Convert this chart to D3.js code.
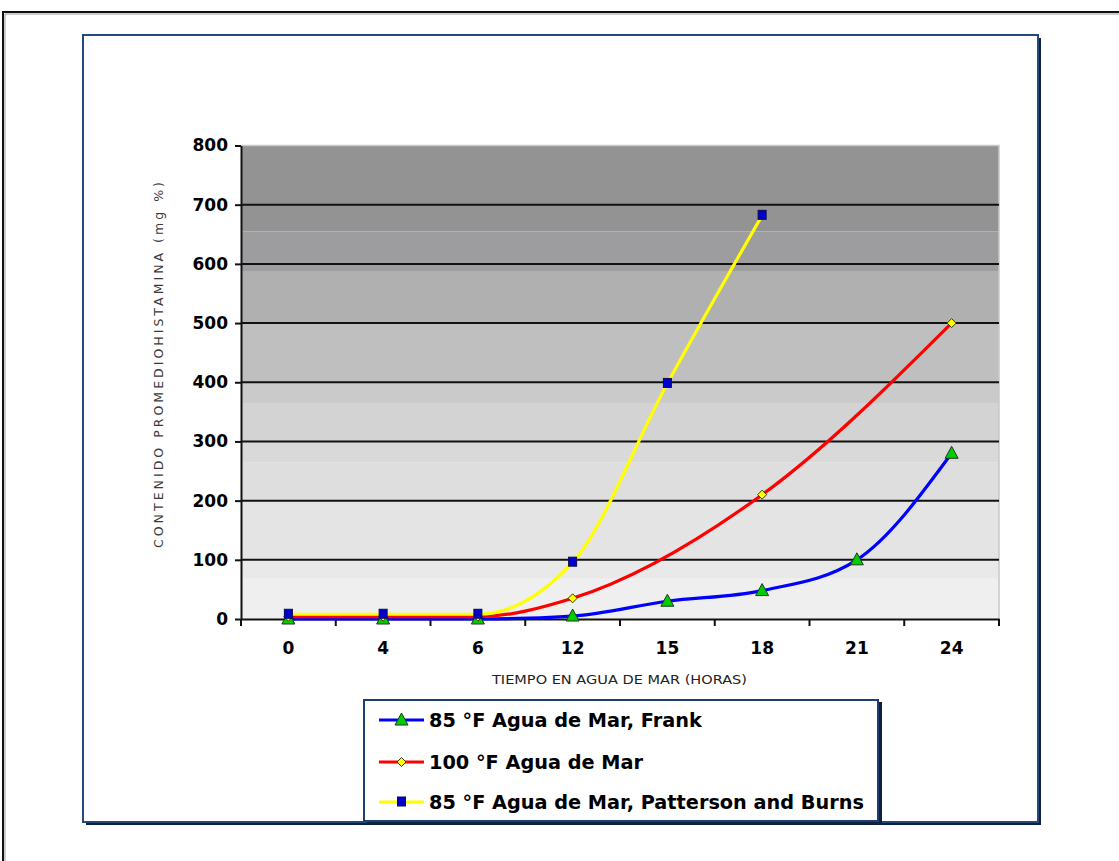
<!DOCTYPE html>
<html>
<head>
<meta charset="utf-8">
<script src="https://cdn.jsdelivr.net/npm/d3@7"></script>
<style>
  html, body { margin: 0; padding: 0; background: #ffffff; }
  svg { display: block; }
</style>
</head>
<body>
<svg id="chart" width="1119" height="861"></svg>
<script>
// ---- data ----
const categories = ["0", "4", "6", "12", "15", "18", "21", "24"];
const frank85 = [0, 0, 0, 5, 30, 48, 100, 280];
const agua100 = [4, 4, 4, 35, null, 210, null, 500];
const patterson85 = [8, 8, 8, 96, 398, 682, null, null];
const yTicks = [0, 100, 200, 300, 400, 500, 600, 700, 800];
const seriesNames = ["85 °F Agua de Mar, Frank", "100 °F Agua de Mar", "85 °F Agua de Mar, Patterson and Burns"];
const yTitle = "CONTENIDO PROMEDIOHISTAMINA (mg %)";
const xTitle = "TIEMPO EN AGUA DE MAR (HORAS)";
// background shading bands (value ranges -> gray)
const bgBands = [
  [655, 800, "#939393"], [588, 655, "#9d9d9f"], [500, 588, "#b0b0b0"],
  [400, 500, "#bfbfbf"], [365, 400, "#cacaca"], [300, 365, "#d3d3d3"],
  [265, 300, "#d9d9d9"], [200, 265, "#dedede"], [100, 200, "#e4e4e4"],
  [68, 100, "#e9e9e9"], [0, 68, "#efefef"]
];

const svg = d3.select("#chart");

// outer frame
svg.append("path").attr("d", "M3,862 L3,12 L1122,12").attr("fill", "none")
  .attr("stroke", "#111").attr("stroke-width", 2);
svg.append("path").attr("d", "M5,862 L5,14 L1122,14").attr("fill", "none")
  .attr("stroke", "#9a9a9a").attr("stroke-width", 1);

// inner box with shadow
svg.append("rect").attr("x", 86).attr("y", 38).attr("width", 955).attr("height", 787).attr("fill", "#0e2140");
svg.append("rect").attr("x", 83).attr("y", 35).attr("width", 955).attr("height", 787)
  .attr("fill", "#ffffff").attr("stroke", "#244a7c").attr("stroke-width", 2);

const plot = { left: 241, right: 999, top: 145.5, bottom: 619 };
const x = d3.scaleBand().domain(categories).range([plot.left, plot.right]);
const y = d3.scaleLinear().domain([0, 800]).range([plot.bottom, plot.top]);

// background bands
svg.append("g").selectAll("rect").data(bgBands).join("rect")
  .attr("x", plot.left).attr("width", plot.right - plot.left)
  .attr("y", d => y(d[1])).attr("height", d => y(d[0]) - y(d[1]))
  .attr("fill", d => d[2]);
// plot border (top/right light)
svg.append("path")
  .attr("d", `M${plot.left},${plot.top} L${plot.right},${plot.top} L${plot.right},${plot.bottom}`)
  .attr("fill", "none").attr("stroke", "#c8c8c8").attr("stroke-width", 1.5);

// gridlines
svg.append("g").selectAll("line").data(yTicks.filter(v => v > 0 && v < 800)).join("line")
  .attr("x1", plot.left).attr("x2", plot.right)
  .attr("y1", d => y(d)).attr("y2", d => y(d))
  .attr("stroke", "#111").attr("stroke-width", 2);

// y axis
const yAxis = svg.append("g").attr("transform", `translate(${plot.left},0)`)
  .call(d3.axisLeft(y).tickValues(yTicks).tickSize(6).tickPadding(7).tickSizeOuter(0));
yAxis.select(".domain").attr("stroke", "#111").attr("stroke-width", 2);
yAxis.selectAll(".tick line").attr("stroke", "#111").attr("stroke-width", 2);
yAxis.selectAll("text").attr("font-family", "DejaVu Sans, Verdana, sans-serif")
  .attr("font-weight", "bold").attr("font-size", 17).attr("fill", "#000");

// x axis
const xAxis = svg.append("g").attr("transform", `translate(0,${plot.bottom})`)
  .call(d3.axisBottom(x).tickSize(0).tickPadding(23).tickSizeOuter(0));
xAxis.select(".domain").attr("stroke", "#111").attr("stroke-width", 2);
xAxis.selectAll("text").attr("font-family", "DejaVu Sans, Verdana, sans-serif")
  .attr("font-weight", "bold").attr("font-size", 17).attr("fill", "#000");
const boundaries = categories.map(c => x(c)).concat([x.range()[1]]);
xAxis.append("g").selectAll("line").data(boundaries).join("line")
  .attr("x1", d => d).attr("x2", d => d).attr("y1", 0).attr("y2", 7)
  .attr("stroke", "#111").attr("stroke-width", 2);

// axis titles
svg.append("text")
  .attr("transform", `translate(159,365) rotate(-90)`)
  .attr("text-anchor", "middle").attr("dy", "0.35em")
  .attr("font-family", "DejaVu Sans, Verdana, sans-serif").attr("font-size", 12.5)
  .attr("fill", "#3a3a3a").attr("textLength", 366).attr("lengthAdjust", "spacing")
  .text(yTitle);
svg.append("text")
  .attr("x", 619.5).attr("y", 684).attr("text-anchor", "middle")
  .attr("font-family", "DejaVu Sans, Verdana, sans-serif").attr("font-size", 12.5)
  .attr("fill", "#222").attr("textLength", 255).attr("lengthAdjust", "spacingAndGlyphs")
  .text(xTitle);

// series
const cx = c => x(c) + x.bandwidth() / 2;
const series = [
  { name: seriesNames[0], values: frank85, color: "#0000ff", marker: "triangle" },
  { name: seriesNames[1], values: agua100, color: "#ff0000", marker: "diamond" },
  { name: seriesNames[2], values: patterson85, color: "#ffff00", marker: "square" }
];
const line = d3.line().x(d => cx(d.c)).y(d => y(d.v)).curve(d3.curveMonotoneX);

function drawMarker(g, type, px, py) {
  if (type === "triangle") {
    g.append("path").attr("d", `M${px},${py - 7} L${px + 6.5},${py + 5} L${px - 6.5},${py + 5} Z`)
      .attr("fill", "#00cc00").attr("stroke", "#1d3b1d").attr("stroke-width", 1);
  } else if (type === "diamond") {
    g.append("path").attr("d", `M${px},${py - 4.5} L${px + 4.5},${py} L${px},${py + 4.5} L${px - 4.5},${py} Z`)
      .attr("fill", "#ffff00").attr("stroke", "#3a3a00").attr("stroke-width", 1);
  } else {
    g.append("rect").attr("x", px - 4).attr("y", py - 5).attr("width", 8).attr("height", 9)
      .attr("fill", "#0000cc").attr("stroke", "#0a0a55").attr("stroke-width", 1);
  }
}

series.forEach(s => {
  const pts = categories.map((c, i) => ({ c, v: s.values[i] })).filter(d => d.v !== null);
  const g = svg.append("g");
  g.append("path").datum(pts).attr("d", line).attr("fill", "none")
    .attr("stroke", s.color).attr("stroke-width", 3.2);
  pts.forEach(d => drawMarker(g, s.marker, cx(d.c), y(d.v)));
});

// legend
const lg = svg.append("g");
lg.append("rect").attr("x", 367).attr("y", 702).attr("width", 515).attr("height", 122).attr("fill", "#0e2140");
lg.append("rect").attr("x", 364).attr("y", 700).attr("width", 514).attr("height", 121)
  .attr("fill", "#ffffff").attr("stroke", "#1f3f70").attr("stroke-width", 2);
const rowY = [720, 762, 802];
series.forEach((s, i) => {
  const yy = rowY[i];
  lg.append("line").attr("x1", 379).attr("x2", 424).attr("y1", yy).attr("y2", yy)
    .attr("stroke", s.color).attr("stroke-width", 3.2);
  drawMarker(lg, s.marker, 401.5, yy);
  lg.append("text").attr("x", 429).attr("y", yy).attr("dy", "0.36em")
    .attr("font-family", "DejaVu Sans, Verdana, sans-serif").attr("font-weight", "bold")
    .attr("font-size", 19.3).attr("fill", "#000").text(s.name);
});
</script>
</body>
</html>
